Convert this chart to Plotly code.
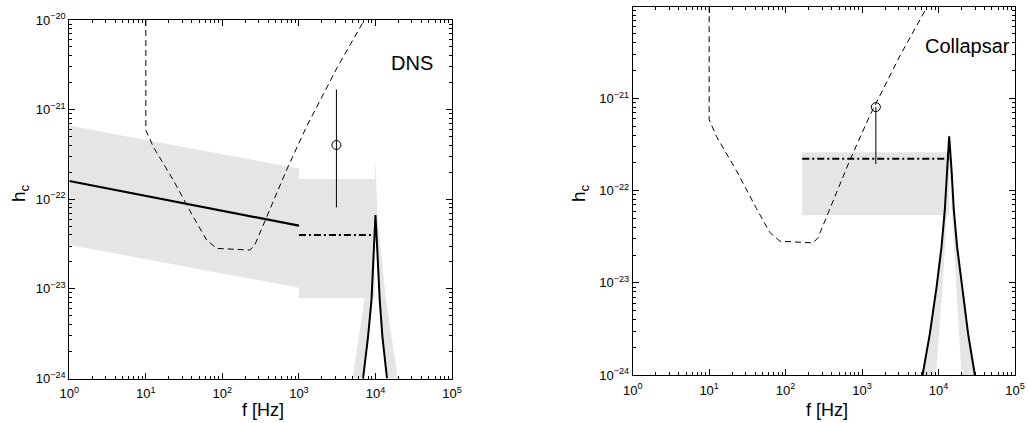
import plotly.graph_objects as go

W, H = 1028, 423

# ---------------- data ----------------
# detector sensitivity curve (same in both panels)
det_f = [10, 10, 12.5, 22.8, 41.6, 62.2, 84, 229, 265, 378, 689, 1256, 3162, 7160]
det_h = [1e-20, 5.9e-22, 3.85e-22, 1.64e-22, 6.38e-23, 3.51e-23, 2.83e-23, 2.71e-23,
         3.08e-23, 6.38e-23, 2.12e-22, 6.46e-22, 2.95e-21, 1e-20]

# DNS panel
dns_band1_f = [1, 1000, 1000, 1]
dns_band1_h = [6.6e-22, 2.2e-22, 1.03e-23, 3.1e-23]
dns_line_f = [1, 1000]
dns_line_h = [1.6e-22, 5.07e-23]
dns_band2_f = [1000, 9800, 9800, 1000]
dns_band2_h = [1.68e-22, 1.68e-22, 7.9e-24, 7.9e-24]
dns_dashdot_f = [1000, 9300]
dns_dashdot_h = [4e-23, 4e-23]
dns_env_f = [5012, 6109, 7244, 9311, 10000, 10617, 13614, 16181, 19724]
dns_env_h = [1e-24, 2.92e-24, 8.13e-24, 6.38e-23, 2.75e-22, 6.38e-23, 8.13e-24, 2.92e-24, 1e-24]
dns_peak_f = [6887, 7998, 8872, 9311, 9795, 10000, 10304, 10814, 11376, 12331, 14158]
dns_peak_h = [1e-24, 2.92e-24, 7.5e-24, 1.77e-23, 4.16e-23, 6.67e-23, 4.16e-23, 1.77e-23,
              7.5e-24, 2.92e-24, 1e-24]
dns_pt_f = [3090]
dns_pt_h = [4.03e-22]
dns_pt_lo = [8.1e-23]
dns_pt_hi = [1.68e-21]

# Collapsar panel
col_rect_f = [165, 13760, 13760, 165]
col_rect_h = [2.6e-22, 2.6e-22, 5.4e-23, 5.4e-23]
col_dashdot_f = [165, 13760]
col_dashdot_h = [2.22e-22, 2.22e-22]
col_peak_f = [6180, 7691, 9419, 10940, 12078, 12942, 13772, 14791, 15849, 17498, 20606, 24378, 29854]
col_peak_h = [1e-24, 2.79e-24, 8.97e-24, 2.45e-23, 6.17e-23, 1.68e-22, 3.89e-22, 1.68e-22,
              6.17e-23, 2.45e-23, 8.97e-24, 2.79e-24, 1e-24]
col_env_h = [1e-24, 2.79e-24, 8.97e-24, 2.45e-23, 6.17e-23, 1.68e-22, 4.4e-22, 1.68e-22,
             6.17e-23, 2.45e-23, 8.97e-24, 2.79e-24, 1e-24]
col_inner_f = [9226, 11272, 12735, 13772, 15241, 17179, 19953]
col_inner_h = [1e-24, 8.97e-24, 4.79e-23, 2e-22, 4.79e-23, 8.97e-24, 1e-24]
col_pt_f = [1514]
col_pt_h = [8.05e-22]
col_pt_lo = [1.94e-22]

# tick labels
x_tick_vals = [1, 10, 100, 1000, 10000, 100000]
x_tick_text = ["10<sup>0</sup>", "10<sup>1</sup>", "10<sup>2</sup>", "10<sup>3</sup>",
               "10<sup>4</sup>", "10<sup>5</sup>"]
y_tick_vals = [1e-24, 1e-23, 1e-22, 1e-21, 1e-20]
y_tick_text = ["10<sup>\u221224</sup>", "10<sup>\u221223</sup>", "10<sup>\u221222</sup>",
               "10<sup>\u221221</sup>", "10<sup>\u221220</sup>"]
x_decades = [0, 1, 2, 3, 4]
y_decades = [-24, -23, -22, -21]
minor_mults = [2, 3, 4, 5, 6, 7, 8, 9]

GRAY = "#e5e5e5"
FONT = "Liberation Sans, Arial, sans-serif"

fig = go.Figure()


def fill(xs, ys, color, xa, ya):
    fig.add_trace(go.Scatter(x=xs, y=ys, mode="lines", fill="toself", fillcolor=color,
                             line=dict(width=0, color=color), xaxis=xa, yaxis=ya,
                             hoverinfo="skip", showlegend=False))


def line(xs, ys, xa, ya, width=1, dash="solid"):
    fig.add_trace(go.Scatter(x=xs, y=ys, mode="lines", line=dict(color="black", width=width, dash=dash),
                             xaxis=xa, yaxis=ya, showlegend=False))


# ---- DNS panel ----
fill(dns_band1_f, dns_band1_h, GRAY, "x", "y")
fill(dns_env_f, dns_env_h, GRAY, "x", "y")
fill(dns_peak_f, dns_peak_h, "white", "x", "y")
fill(dns_band2_f, dns_band2_h, GRAY, "x", "y")
line(dns_dashdot_f, dns_dashdot_h, "x", "y", width=2, dash="7px,3px,2px,3px")
line(dns_line_f, dns_line_h, "x", "y", width=2.2)
line(dns_peak_f, dns_peak_h, "x", "y", width=2)
line(det_f, det_h, "x", "y", width=1, dash="6px,4px")
fig.add_trace(go.Scatter(
    x=dns_pt_f, y=dns_pt_h, mode="markers",
    marker=dict(symbol="circle-open", size=9, color="black", line=dict(width=1)),
    error_y=dict(type="data", symmetric=False,
                 array=[h - v for h, v in zip(dns_pt_hi, dns_pt_h)],
                 arrayminus=[v - l for v, l in zip(dns_pt_h, dns_pt_lo)],
                 color="black", thickness=1, width=0),
    xaxis="x", yaxis="y", showlegend=False))

# ---- Collapsar panel ----
fill(col_peak_f, col_env_h, GRAY, "x2", "y2")
fill(col_inner_f, col_inner_h, "white", "x2", "y2")
fill(col_rect_f, col_rect_h, GRAY, "x2", "y2")
line(col_dashdot_f, col_dashdot_h, "x2", "y2", width=2, dash="7px,3px,2px,3px")
line(col_peak_f, col_peak_h, "x2", "y2", width=2)
line(det_f, det_h, "x2", "y2", width=1, dash="6px,4px")
fig.add_trace(go.Scatter(
    x=col_pt_f, y=col_pt_h, mode="markers",
    marker=dict(symbol="circle-open", size=9, color="black", line=dict(width=1)),
    error_y=dict(type="data", symmetric=False, array=[0],
                 arrayminus=[v - l for v, l in zip(col_pt_h, col_pt_lo)],
                 color="black", thickness=1, width=0),
    xaxis="x2", yaxis="y2", showlegend=False))

x_minor = [m * 10.0 ** d for d in x_decades for m in minor_mults]
y_minor = [m * 10.0 ** d for d in y_decades for m in minor_mults]

axis_common = dict(type="log", showline=True, linecolor="black", linewidth=1, mirror="allticks",
                   ticks="inside", ticklen=6, tickcolor="black", tickwidth=1, showgrid=False,
                   zeroline=False, automargin=False,
                   tickfont=dict(family=FONT, size=13, color="black"))

xcommon = dict(axis_common, range=[0, 5], tickmode="array", tickvals=x_tick_vals, ticktext=x_tick_text,
               ticklabelstandoff=3,
               minor=dict(tickmode="array", tickvals=x_minor, ticks="inside", ticklen=3,
                          tickcolor="black", tickwidth=1, showgrid=False))
ycommon = dict(axis_common, tickmode="array", tickvals=y_tick_vals, ticktext=y_tick_text,
               minor=dict(tickmode="array", tickvals=y_minor, ticks="inside", ticklen=3,
                          tickcolor="black", tickwidth=1, showgrid=False))

fig.update_layout(
    width=W, height=H, margin=dict(l=0, r=0, t=0, b=0, autoexpand=False),
    paper_bgcolor="white", plot_bgcolor="white", showlegend=False,
    font=dict(family=FONT, color="black"),
    xaxis=dict(xcommon, domain=[69.3 / W, 452 / W], anchor="y"),
    yaxis=dict(ycommon, domain=[1 - 378.5 / H, 1 - 20 / H], range=[-24, -20], anchor="x"),
    xaxis2=dict(xcommon, domain=[632.7 / W, 1015 / W], anchor="y2"),
    yaxis2=dict(ycommon, domain=[1 - 375 / H, 1 - 6.7 / H], range=[-24, -20.005], anchor="x2"),
    annotations=[
        dict(text="DNS", x=4.774, y=-20.48, xref="x", yref="y", xanchor="right", yanchor="middle",
             showarrow=False, font=dict(size=20, family=FONT)),
        dict(text="Collapsar", x=4.958, y=-20.43, xref="x2", yref="y2", xanchor="right",
             yanchor="middle", showarrow=False, font=dict(size=20, family=FONT)),
        dict(text="h<sub>c</sub>", x=20 / W, y=1 - 193 / H, xref="paper", yref="paper",
             xanchor="center", yanchor="middle",
             textangle=-90, showarrow=False, font=dict(size=19, family=FONT)),
        dict(text="h<sub>c</sub>", x=580 / W, y=1 - 193 / H, xref="paper", yref="paper",
             xanchor="center", yanchor="middle",
             textangle=-90, showarrow=False, font=dict(size=19, family=FONT)),
        dict(text="f [Hz]", x=263 / W, y=1 - 410 / H, xref="paper", yref="paper",
             xanchor="center", yanchor="middle",
             showarrow=False, font=dict(size=18, family=FONT)),
        dict(text="f [Hz]", x=827 / W, y=1 - 410 / H, xref="paper", yref="paper",
             xanchor="center", yanchor="middle",
             showarrow=False, font=dict(size=18, family=FONT)),
    ],
)

fig.write_html("out.html", config={"displayModeBar": False},
               post_script="document.body.style.margin='0';document.body.style.overflow='hidden';")
